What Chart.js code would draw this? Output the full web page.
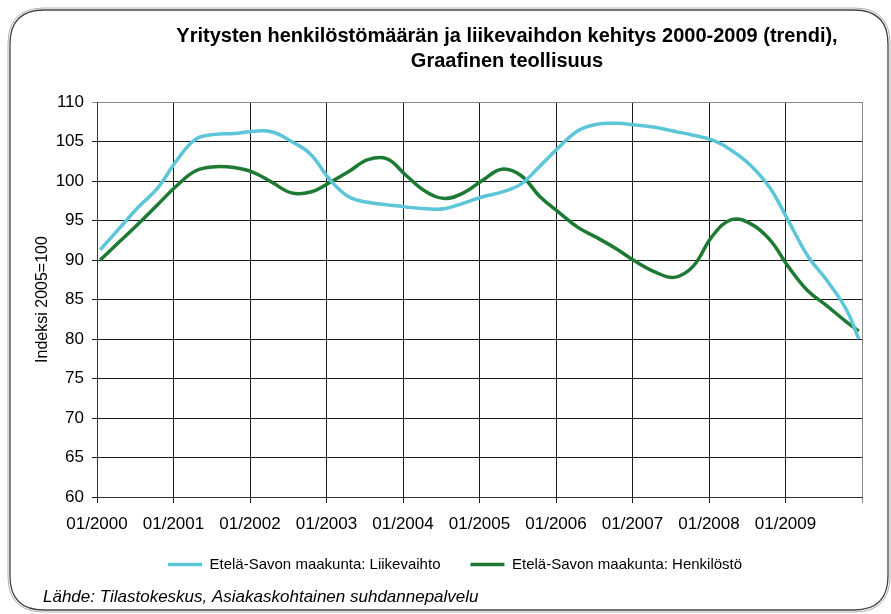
<!DOCTYPE html>
<html>
<head>
<meta charset="utf-8">
<script src="https://cdn.jsdelivr.net/npm/chart.js@4.4.0/dist/chart.umd.min.js"></script>
<style>
  html, body { margin: 0; padding: 0; background: #fff; }
</style>
</head>
<body>
<canvas id="trend-chart" width="891" height="614"></canvas>
<script>
// Yritysten henkilöstömäärän ja liikevaihdon kehitys 2000-2009, Graafinen teollisuus

var months = [0, 3, 6, 9, 12, 15, 18, 21, 24, 27, 30, 33, 36, 39, 42, 45, 48, 51, 54, 57,
              60, 63, 66, 69, 72, 75, 78, 81, 84, 87, 90, 93, 96, 99, 102, 105, 108, 111, 114, 117, 119];

var yearLabels = ['01/2000', '01/2001', '01/2002', '01/2003', '01/2004',
                  '01/2005', '01/2006', '01/2007', '01/2008', '01/2009'];

var liikevaihto = [91.3, 94.0, 96.7, 99.1, 102.6, 105.3, 105.9, 106.0, 106.3, 106.2,
                   105.0, 103.4, 100.2, 98.0, 97.3, 97.0, 96.7, 96.5, 96.5, 97.2,
                   98.0, 98.6, 99.6, 101.9, 104.3, 106.4, 107.2, 107.3, 107.1, 106.8,
                   106.3, 105.8, 105.2, 103.9, 102.0, 99.2, 94.9, 90.5, 87.4, 83.8, 80.0];

var henkilosto = [90.0, 92.3, 94.6, 97.0, 99.4, 101.3, 101.8, 101.7, 101.1, 99.8,
                  98.5, 98.6, 99.8, 101.2, 102.7, 102.8, 100.7, 98.7, 97.8, 98.5,
                  100.1, 101.5, 100.7, 98.0, 96.0, 94.1, 92.8, 91.4, 89.8, 88.5,
                  87.8, 89.2, 93.0, 95.1, 94.6, 92.6, 89.1, 86.1, 84.2, 82.2, 81.0];

var sourceText = 'Lähde: Tilastokeskus, Asiakaskohtainen suhdannepalvelu';

function points(values) {
  // each month is drawn in the middle of its slot on the axis
  return values.map(function (v, i) { return { x: months[i] + 0.5, y: v }; });
}

// rounded frame, source line and placement of title / legend
var frame = {
  id: 'frame',
  beforeDraw: function (chart) {
    var c = chart.ctx;
    c.save();
    c.fillStyle = '#fff';
    c.fillRect(0, 0, chart.width, chart.height);
    function box(x0, y0, x1, y1, r) {
      c.beginPath();
      c.moveTo(x0 + r, y0);
      c.lineTo(x1 - r, y0);
      c.quadraticCurveTo(x1, y0, x1, y0 + r);
      c.lineTo(x1, y1 - r);
      c.quadraticCurveTo(x1, y1, x1 - r, y1);
      c.lineTo(x0 + r, y1);
      c.quadraticCurveTo(x0, y1, x0, y1 - r);
      c.lineTo(x0, y0 + r);
      c.quadraticCurveTo(x0, y0, x0 + r, y0);
      c.closePath();
    }
    c.strokeStyle = '#b0b0b0';
    c.lineWidth = 1;
    box(8, 8, 890, 612, 36);
    c.stroke();
    c.strokeStyle = '#444';
    c.lineWidth = 1.3;
    box(10, 10, 888, 610, 34);
    c.stroke();
    c.restore();
  },
  afterLayout: function (chart) {
    chart.titleBlock.left = 123;
    chart.titleBlock.right = 891;
    var lg = chart.legend;
    var h = lg.bottom - lg.top;
    lg.left = 138;
    lg.right = 891;
    lg.top = 527;
    lg.bottom = 527 + h;
  },
  afterDraw: function (chart) {
    var c = chart.ctx;
    c.save();
    c.font = 'italic 17px "Liberation Sans", Arial, sans-serif';
    c.fillStyle = '#000';
    c.textBaseline = 'middle';
    c.fillText(sourceText, 43, 597);
    c.restore();
  }
};

var ctx = document.getElementById('trend-chart').getContext('2d');
var chart = new Chart(ctx, {
  type: 'line',
  data: {
    datasets: [{
      label: 'Etelä-Savon maakunta: Liikevaihto',
      data: points(liikevaihto),
      borderColor: '#5cc6d8',
      backgroundColor: '#5cc6d8',
      borderWidth: 3.5,
      pointRadius: 0,
      tension: 0.4,
      fill: false
    },
    {
      label: 'Etelä-Savon maakunta: Henkilöstö',
      data: points(henkilosto),
      borderColor: '#1c7a32',
      backgroundColor: '#1c7a32',
      borderWidth: 3.5,
      pointRadius: 0,
      tension: 0.4,
      fill: false
    }]
  },
  options: {
    responsive: false,
    animation: false,
    layout: { padding: { left: 0, right: 29, top: 0, bottom: 22 } },
    font: { family: '"Liberation Sans", Arial, sans-serif' },
    plugins: {
      title: {
        display: true,
        text: ['Yritysten henkilöstömäärän ja liikevaihdon kehitys 2000-2009 (trendi),',
               'Graafinen teollisuus'],
        color: '#000',
        font: { size: 20, weight: 'bold', lineHeight: 1.25 },
        padding: { top: 24, bottom: 28 }
      },
      legend: {
        position: 'bottom',
        align: 'start',
        labels: {
          color: '#000',
          font: { size: 15 },
          usePointStyle: true,
          pointStyle: 'line',
          pointStyleWidth: 34,
          boxHeight: 15,
          padding: 30
        }
      },
      tooltip: { enabled: false }
    },
    scales: {
      x: {
        type: 'linear',
        min: 0,
        max: 120,
        border: { color: '#333', width: 1 },
        grid: {
          color: function (c) { return c.tick && c.tick.value === 120 ? '#8a8a8a' : '#1a1a1a'; },
          lineWidth: 1,
          tickLength: 6
        },
        ticks: {
          stepSize: 12,
          autoSkip: false,
          maxRotation: 0,
          color: '#000',
          font: { size: 17 },
          padding: 11,
          callback: function (v) { return yearLabels[v / 12] || ''; }
        },
        afterFit: function (scale) { scale.height = 40; }
      },
      y: {
        min: 60,
        max: 110,
        border: { color: '#333', width: 1 },
        grid: {
          color: function (c) { return c.tick && c.tick.value === 110 ? '#8a8a8a' : '#1a1a1a'; },
          lineWidth: 1,
          tickLength: 5
        },
        ticks: {
          stepSize: 5,
          color: '#000',
          font: { size: 17 },
          padding: 8
        },
        title: {
          display: true,
          text: 'Indeksi 2005=100',
          color: '#000',
          font: { size: 16 },
          padding: { top: 33, bottom: 0 }
        },
        afterFit: function (scale) { scale.width = 97; }
      }
    }
  },
  plugins: [frame]
});
</script>
</body>
</html>
